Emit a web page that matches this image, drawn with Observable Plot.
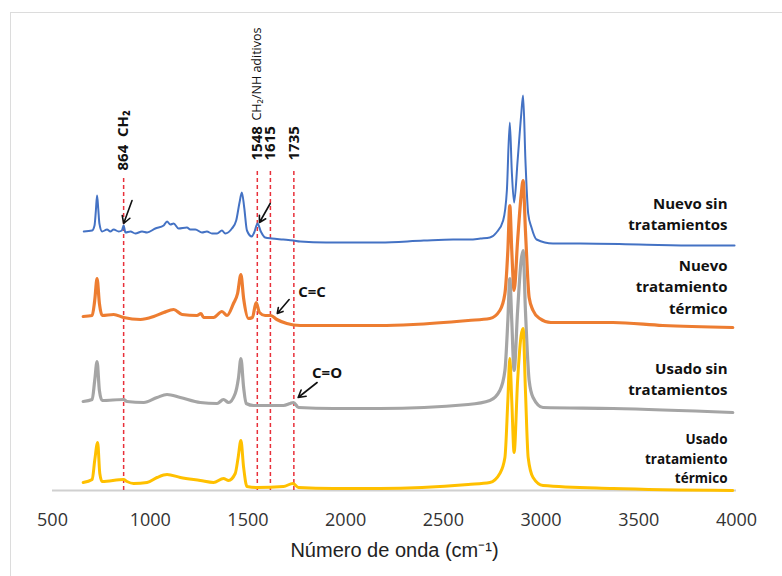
<!DOCTYPE html>
<html><head><meta charset="utf-8">
<script src="https://cdn.jsdelivr.net/npm/d3@7"></script>
<script src="https://cdn.jsdelivr.net/npm/@observablehq/plot@0.6"></script>
<style>
body{margin:0;background:#fff;}
#wrap{position:relative;width:782px;height:576px;overflow:hidden;}
#border{position:absolute;left:10px;top:12px;right:-2px;bottom:-2px;border-top:1px solid #dcdcdc;border-left:1px solid #dcdcdc;}
#chart{position:absolute;left:0;top:0;}
</style></head><body>
<div id="wrap"><div id="border"></div><div id="chart"></div></div>
<script>
// ---- data ----
const xTicks = [500, 1000, 1500, 2000, 2500, 3000, 3500, 4000];
const seriesNames = ["Nuevo sin tratamientos", "Nuevo tratamiento térmico", "Usado sin tratamientos", "Usado tratamiento térmico"];
const seriesColors = ["#4472C4", "#ED7D31", "#A5A5A5", "#FFC000"];
const seriesLabelLines = ["Nuevo sin\ntratamientos", "Nuevo\ntratamiento\ntérmico", "Usado sin\ntratamientos", "Usado\ntratamiento\ntérmico"];
const seriesLabelLevel = [278, 205, 113, 33];
const seriesLabelSize = [15, 15, 15, 13.5];

const nuevoSinWn = [660,703,715,722,728,734,740,754,779,796,813,839,855,864,873,899,924,958,984,1026,1069,1086,1103,1120,1145,1188,1205,1231,1265,1290,1316,1342,1367,1384,1418,1440,1457,1469,1481,1495,1520,1532,1549,1566,1588,1623,1680,1733,1767,1900,2176,2400,2550,2636,2690,2738,2772,2806,2825,2840,2850,2862,2880,2898,2908,2920,2934,2951,2977,3061,3200,3500,3800,3990];
const nuevoSinVal = [259,260,265,280,295,282,267,259,261,259,261,259,260,265,258,259,257,259,258,262,265,269,266,267,262,263,261,261,258,259,257,257,260,257,262,270,288,298,283,260,254,258,267,259,253,252,251,250,249,248,248,250,251,251,252,253,258,270,300,368,320,288,330,375,395,330,277,263,251,247,247,246,245,245];

const nuevoTermWn = [657,703,716,728,740,754,813,864,950,1018,1069,1120,1163,1239,1260,1273,1324,1367,1393,1426,1447,1464,1478,1503,1523,1542,1559,1588,1617,1648,1699,1767,2000,2176,2346,2627,2738,2789,2815,2830,2840,2850,2862,2880,2898,2908,2920,2939,2959,2993,3050,3200,3368,3623,3981];
const nuevoTermVal = [174,175,190,212,187,175,176,173,171,174,178,181,176,175,177,173,173,179,175,187,197,216,192,172,173,188,178,175,175,171,167,165,165,165,166,170,172,180,197,240,285,240,200,250,295,310,260,193,180,172,168,168,168,165,163];

const usadoSinWn = [657,703,716,728,740,754,864,881,967,1035,1086,1154,1256,1342,1375,1401,1435,1452,1464,1478,1491,1529,1682,1716,1733,1759,1937,2176,2627,2738,2789,2815,2830,2840,2850,2862,2880,2898,2908,2920,2939,2959,3010,3368,3981];
const usadoSinVal = [89,91,110,129,100,90,91,89,88,93,96,93,88,87,91,88,97,113,132,103,87,85,85,87,88,83,82,82,86,90,100,120,170,212,170,120,180,230,240,180,110,93,83,82,78];

const usadoTermWn = [657,703,716,731,742,754,864,881,915,984,1035,1086,1154,1256,1324,1375,1401,1435,1450,1464,1478,1495,1546,1682,1730,1759,1937,2176,2627,2738,2789,2815,2830,2840,2850,2862,2880,2898,2908,2920,2934,2959,3010,3368,3981];
const usadoTermVal = [8,11,30,48,17,9,11,9,7,8,13,16,13,10,8,12,10,17,33,50,23,4,3,4,7,3,2,2,6,8,17,33,90,132,90,38,110,155,162,100,33,13,5,2,0];

// annotations
const markWn = [864, 1548, 1615, 1735];
const markTop = [314, 322, 322, 322];
const markLabel = ["864  CH₂", "1548", "1615", "1735"];
const markLabelStart = [320, 330, 330, 330];
const noteText = ["CH₂/NH aditivos"];
const noteWn = [1548];
const noteStart = [370];
const arrowX1 = [907, 1614, 1711, 1854];
const arrowY1 = [290, 287, 191, 108];
const arrowX2 = [864, 1559, 1650, 1757];
const arrowY2 = [267, 268, 177, 93];
const bondText = ["C=C", "C=O"];
const bondWn = [1757, 1828];
const bondLevel = [198, 117];
const axisTitle = "Número de onda (cm⁻¹)";

// ---- build ----
const allWn = [nuevoSinWn, nuevoTermWn, usadoSinWn, usadoTermWn];
const allVal = [nuevoSinVal, nuevoTermVal, usadoSinVal, usadoTermVal];
const widths = [2, 3.2, 3.2, 3];
const lines = allWn.map((wn, i) => Plot.line(wn.map((w, j) => ({wn: w, v: allVal[i][j]})), {
  x: "wn", y: "v", stroke: seriesColors[i], strokeWidth: widths[i], strokeLinejoin: "round", curve: "monotone-x"
}));
const marks = markWn.map((w, i) => ({wn: w, top: markTop[i], label: markLabel[i], start: markLabelStart[i]}));
const arrows = arrowX1.map((x, i) => ({x1: x, y1: arrowY1[i], x2: arrowX2[i], y2: arrowY2[i]}));
const labels = seriesNames.map((n, i) => ({name: n, text: seriesLabelLines[i], y: seriesLabelLevel[i], size: seriesLabelSize[i]}));

const font = "'Open Sans', 'Noto Sans', sans-serif";
const chart = Plot.plot({
  width: 782, height: 576,
  marginTop: 13, marginBottom: 86, marginLeft: 52, marginRight: 46,
  style: {fontFamily: font, background: "transparent"},
  x: {domain: [500, 4000]},
  y: {domain: [0, 477], axis: null},
  marks: [
    Plot.ruleY([0], {stroke: "#d0d0d0", strokeWidth: 2}),
    Plot.axisX({ticks: xTicks, tickSize: 0, tickPadding: 23, fontSize: 18, fill: "#333", label: null, tickFormat: d => String(d)}),
    Plot.ruleX(marks, {x: "wn", y1: 0, y2: "top", stroke: "#E8303A", strokeWidth: 1.5, strokeDasharray: "4,3"}),
    ...lines,
    Plot.text(marks, {x: "wn", y: "start", text: "label", rotate: -90, textAnchor: "start", lineAnchor: "middle", fontWeight: "bold", fontSize: 15, fill: "#111"}),
    Plot.text(noteText.map((t, i) => ({t, wn: noteWn[i], s: noteStart[i]})), {x: "wn", y: "s", text: "t", rotate: -90, textAnchor: "start", lineAnchor: "middle", fontSize: 12.5, fill: "#111"}),
    Plot.arrow(arrows, {x1: "x1", y1: "y1", x2: "x2", y2: "y2", stroke: "#111", strokeWidth: 1.6, headLength: 9}),
    Plot.text(bondText.map((t, i) => ({t, wn: bondWn[i], y: bondLevel[i]})), {x: "wn", y: "y", text: "t", textAnchor: "start", fontWeight: "bold", fontSize: 15, fill: "#111"}),
    Plot.text(labels.filter(d => d.size > 14), {x: 3954, y: "y", text: "text", textAnchor: "end", fontWeight: "bold", fontSize: 15, lineHeight: 1.45, fill: "#111"}),
    Plot.text(labels.filter(d => d.size <= 14), {x: 3954, y: "y", text: "text", textAnchor: "end", fontWeight: "bold", fontSize: 13.5, lineHeight: 1.45, fill: "#111"}),
    Plot.text([axisTitle], {text: d => d, frameAnchor: "bottom", dy: 66, fontSize: 20, fill: "#222", fontFamily: "'Liberation Sans Narrow', 'Liberation Sans', sans-serif"})
  ]
});
document.getElementById("chart").appendChild(chart);
</script>
</body></html>
